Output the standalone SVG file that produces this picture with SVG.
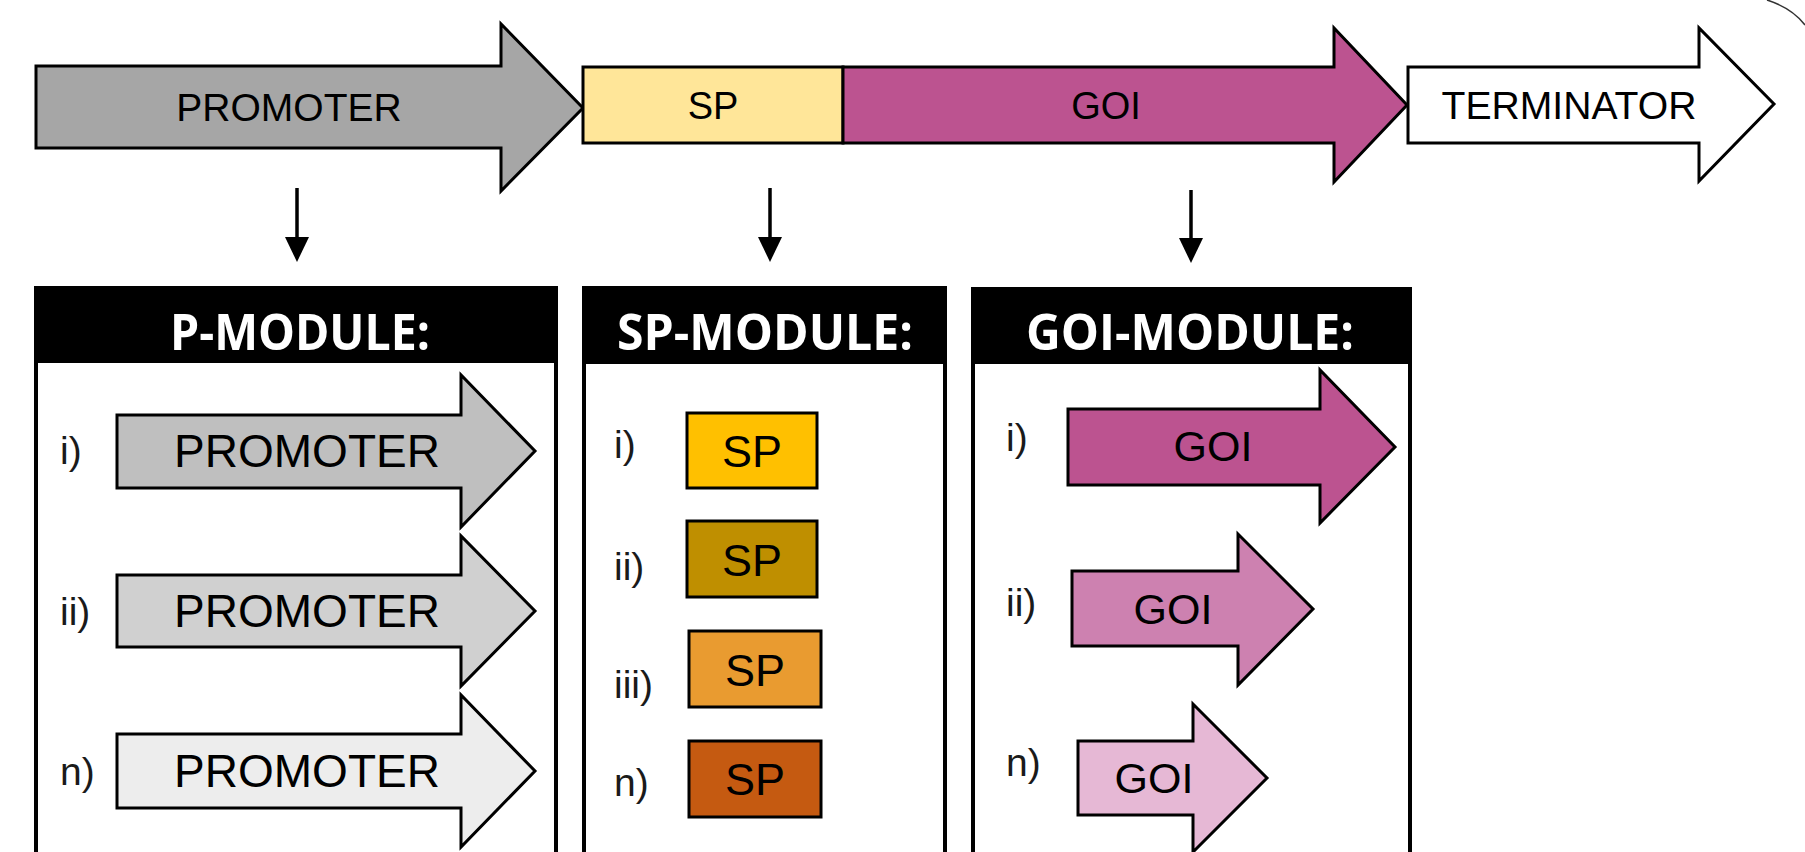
<svg xmlns="http://www.w3.org/2000/svg" width="1805" height="852" viewBox="0 0 1805 852">
<defs>
<style>
.shp{stroke:#000;stroke-width:3;stroke-linejoin:miter}
.t{font-family:"Liberation Sans",Arial,sans-serif;fill:#000;text-anchor:middle}
.lbl{font-family:"Liberation Sans",Arial,sans-serif;fill:#1a1a1a;font-size:39px}
.box{fill:#fff;stroke:#000;stroke-width:4}
.hdr{fill:#000}
.ht{font-family:"Open Sans","Liberation Sans",sans-serif;font-weight:bold;fill:#fff;text-anchor:middle;font-size:50px}
.conn{stroke:#000;stroke-width:3.5}
</style>
</defs>
<rect width="1805" height="852" fill="#fff"/>

<g id="top-promoter">
<polygon class="shp" fill="#A6A6A6" points="36,66 501,66 501,24 583,108 501,191 501,148 36,148"/>
<text class="t" x="289" y="121" font-size="39">PROMOTER</text>
</g>
<g id="top-sp">
<rect class="shp" fill="#FFE699" x="583" y="67" width="260" height="76"/>
<text class="t" x="713" y="119" font-size="38">SP</text>
</g>
<g id="top-goi">
<polygon class="shp" fill="#BC5390" points="843,67 1334,67 1334,28 1407,105 1334,182 1334,143 843,143"/>
<text class="t" x="1106" y="119" font-size="38">GOI</text>
</g>
<g id="top-terminator">
<polygon class="shp" fill="#fff" points="1408,67 1699,67 1699,28 1774,104 1699,181 1699,143 1408,143"/>
<text class="t" x="1569" y="119" font-size="38" textLength="255" lengthAdjust="spacingAndGlyphs">TERMINATOR</text>
</g>

<g id="connectors">
<line class="conn" x1="297" y1="188" x2="297" y2="242"/>
<polygon points="285,237 309,237 297,262"/>
<line class="conn" x1="770" y1="188" x2="770" y2="242"/>
<polygon points="758,237 782,237 770,262"/>
<line class="conn" x1="1191" y1="190" x2="1191" y2="243"/>
<polygon points="1179,238 1203,238 1191,263"/>
</g>

<g id="p-module">
<rect class="box" x="36" y="288" width="520" height="600"/>
<rect class="hdr" x="36" y="288" width="520" height="75"/>
<text class="ht" x="300" y="350" textLength="260" lengthAdjust="spacingAndGlyphs">P-MODULE:</text>
<g id="p-i">
<text class="lbl" x="60" y="464">i)</text>
<polygon class="shp" fill="#BFBFBF" points="117,415 461,415 461,375 535,451 461,527 461,488 117,488"/>
<text class="t" x="307" y="467" font-size="46">PROMOTER</text>
</g>
<g id="p-ii">
<text class="lbl" x="60" y="625">ii)</text>
<polygon class="shp" fill="#D0D0D0" points="117,575 461,575 461,536 535,611 461,686 461,647 117,647"/>
<text class="t" x="307" y="627" font-size="46">PROMOTER</text>
</g>
<g id="p-n">
<text class="lbl" x="60" y="785">n)</text>
<polygon class="shp" fill="#EDEDED" points="117,734 461,734 461,695 535,771 461,847 461,808 117,808"/>
<text class="t" x="307" y="787" font-size="46">PROMOTER</text>
</g>
</g>

<g id="sp-module">
<rect class="box" x="584" y="288" width="361" height="600"/>
<rect class="hdr" x="584" y="288" width="361" height="76"/>
<text class="ht" x="765" y="350" textLength="296" lengthAdjust="spacingAndGlyphs">SP-MODULE:</text>
<g id="sp-i">
<text class="lbl" x="614" y="458">i)</text>
<rect class="shp" fill="#FFC000" x="687" y="413" width="130" height="75"/>
<text class="t" x="752" y="467" font-size="45">SP</text>
</g>
<g id="sp-ii">
<text class="lbl" x="614" y="580">ii)</text>
<rect class="shp" fill="#BF8F00" x="687" y="521" width="130" height="76"/>
<text class="t" x="752" y="576" font-size="45">SP</text>
</g>
<g id="sp-iii">
<text class="lbl" x="614" y="698">iii)</text>
<rect class="shp" fill="#E99B30" x="689" y="631" width="132" height="76"/>
<text class="t" x="755" y="686" font-size="45">SP</text>
</g>
<g id="sp-n">
<text class="lbl" x="614" y="796">n)</text>
<rect class="shp" fill="#C55A11" x="689" y="741" width="132" height="76"/>
<text class="t" x="755" y="795" font-size="45">SP</text>
</g>
</g>

<g id="goi-module">
<rect class="box" x="973" y="289" width="437" height="600"/>
<rect class="hdr" x="973" y="289" width="437" height="75"/>
<text class="ht" x="1190" y="350" textLength="328" lengthAdjust="spacingAndGlyphs">GOI-MODULE:</text>
<g id="goi-i">
<text class="lbl" x="1006" y="451">i)</text>
<polygon class="shp" fill="#BC5390" points="1068,409 1320,409 1320,370 1395,447 1320,523 1320,485 1068,485"/>
<text class="t" x="1213" y="461" font-size="43">GOI</text>
</g>
<g id="goi-ii">
<text class="lbl" x="1006" y="616">ii)</text>
<polygon class="shp" fill="#CD81B0" points="1072,571 1238,571 1238,534 1313,609 1238,685 1238,646 1072,646"/>
<text class="t" x="1173" y="624" font-size="43">GOI</text>
</g>
<g id="goi-n">
<text class="lbl" x="1006" y="776">n)</text>
<polygon class="shp" fill="#E6B8D5" points="1078,741 1193,741 1193,704 1267,778 1193,852 1193,815 1078,815"/>
<text class="t" x="1154" y="793" font-size="43">GOI</text>
</g>
</g>

<path d="M1767,0 Q1792,8 1805,25" fill="none" stroke="#333" stroke-width="1.5"/>
</svg>
